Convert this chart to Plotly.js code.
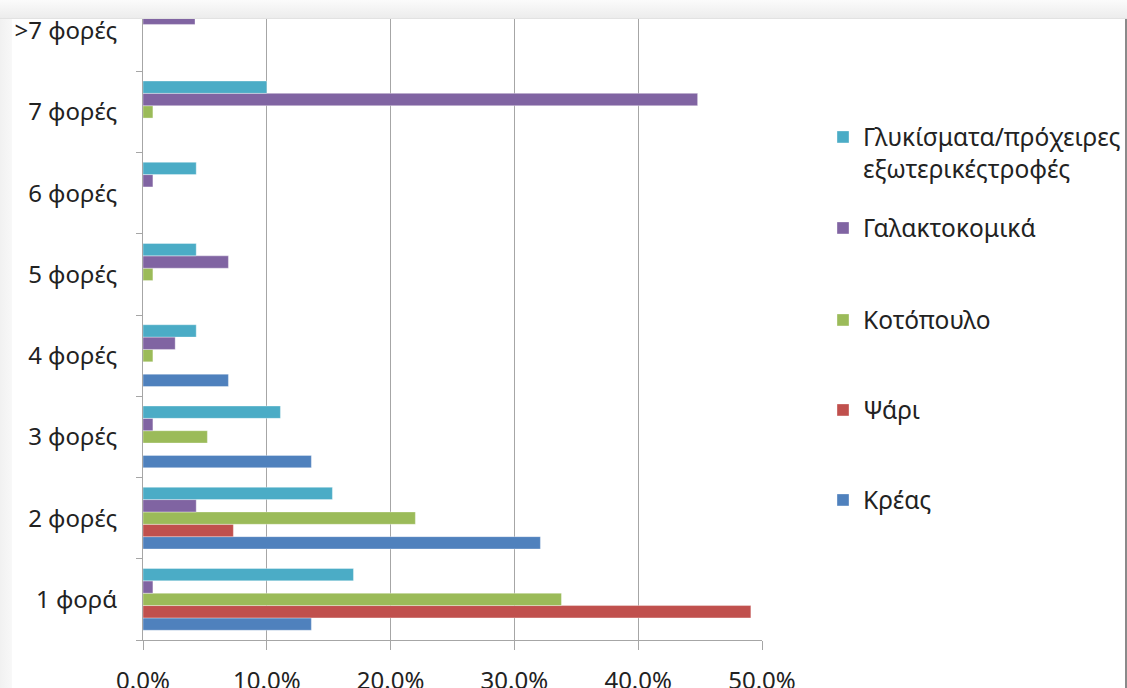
<!DOCTYPE html>
<html>
<head>
<meta charset="utf-8">
<script src="https://cdn.plot.ly/plotly-3.0.1.min.js"></script>
<style>
  html, body { margin:0; padding:0; width:1127px; height:688px; overflow:hidden; background:#f4f4f4; }
  #chart { position:absolute; left:0; top:-40px; width:1127px; height:740px; }
  #topband { position:absolute; left:0; top:0; width:1127px; height:18px; background:linear-gradient(#fbfbfb,#ececec); border-bottom:1px solid #e2e2e2; pointer-events:none; z-index:5; }
  #leftband { position:absolute; left:0; top:0; width:12px; height:688px; background:linear-gradient(90deg,#f1f1f1,#f8f8f8); pointer-events:none; z-index:4; }
  #rightline { position:absolute; left:1125px; top:18px; width:2px; height:670px; background:#8a8a8a; pointer-events:none; z-index:4; }
</style>
</head>
<body>
<div id="chart"></div>
<div id="topband"></div>
<div id="leftband"></div>
<div id="rightline"></div>
<script>
// Categories (bottom to top)
const categories = ["1 φορά", "2 φορές", "3 φορές", "4 φορές", "5 φορές", "6 φορές", "7 φορές", ">7 φορές"];
// Series values (fractions)
const kreas        = [0.136, 0.321, 0.136, 0.069, 0, 0, 0, 0];
const psari        = [0.491, 0.073, 0, 0, 0, 0, 0, 0];
const kotopoulo    = [0.338, 0.220, 0.052, 0.008, 0.008, 0, 0.008, 0];
const galaktokomika= [0.008, 0.043, 0.008, 0.026, 0.069, 0.008, 0.448, 0.042];
const glykismata   = [0.170, 0.153, 0.111, 0.043, 0.043, 0.043, 0.100, 0];
const seriesNames = ["Κρέας", "Ψάρι", "Κοτόπουλο", "Γαλακτοκομικά", "Γλυκίσματα/πρόχειρες<br>εξωτερικέςτροφές"];
const seriesData = [kreas, psari, kotopoulo, galaktokomika, glykismata];
const seriesColors = ["#4F81BD", "#C0504D", "#9BBB59", "#8064A2", "#4BACC6"];
const legendIds = ["legend5", "legend4", "legend3", "legend2", "legend"];

const FONT = '"Noto Sans", "Open Sans", sans-serif';
const traces = seriesNames.map((n, i) => ({
  type: 'bar',
  orientation: 'h',
  name: n,
  y: categories,
  x: seriesData[i],
  marker: { color: seriesColors[i], line: { color: 'rgba(255,255,255,0.35)', width: 1 } },
  legend: legendIds[i],
  hoverinfo: 'x+y+name'
}));

// plot area: page y from -10 to 640 (650 px)
function py(ypx) { return (640 - ypx) / 650; }
const legX = (823 - 143) / 619;
function leg(ycenter, valign) {
  return {
    x: legX, xanchor: 'left', y: py(ycenter), yanchor: 'middle',
    font: { family: FONT, size: 24.5, color: '#222' },
    bgcolor: 'rgba(0,0,0,0)', borderwidth: 0, valign: valign || 'middle',
    itemclick: false, itemdoubleclick: false
  };
}

const layout = {
  width: 1127, height: 740,
  margin: { l: 143, r: 365, t: 30, b: 60, autoexpand: false },
  paper_bgcolor: '#ffffff',
  plot_bgcolor: '#ffffff',
  barmode: 'group',
  bargap: 0.24,
  bargroupgap: 0,
  font: { family: FONT, size: 24, color: '#222' },
  showlegend: true,
  legend: leg(153, 'top'),
  legend2: leg(228),
  legend3: leg(320),
  legend4: leg(410),
  legend5: leg(500),
  xaxis: {
    range: [0, 0.5], dtick: 0.1, tick0: 0, tickformat: '.1%',
    showgrid: true, gridcolor: '#a6a6a6', gridwidth: 1,
    zeroline: false, showline: true, linecolor: '#a6a6a6', linewidth: 1,
    ticks: 'outside', ticklen: 9, tickcolor: '#a6a6a6',
    ticklabelstandoff: 10,
    tickfont: { family: FONT, size: 24, color: '#222' },
    fixedrange: true
  },
  yaxis: {
    type: 'category', categoryorder: 'array', categoryarray: categories,
    range: [-0.5, 7.5],
    showgrid: false, zeroline: false,
    showline: true, linecolor: '#a6a6a6', linewidth: 1,
    ticks: 'outside', ticklen: 6, tickcolor: '#a6a6a6', tickson: 'boundaries',
    ticklabelstandoff: 20,
    tickfont: { family: FONT, size: 24, color: '#222' },
    fixedrange: true
  }
};

Plotly.newPlot('chart', traces, layout, { displayModeBar: false, staticPlot: false });
</script>
</body>
</html>
